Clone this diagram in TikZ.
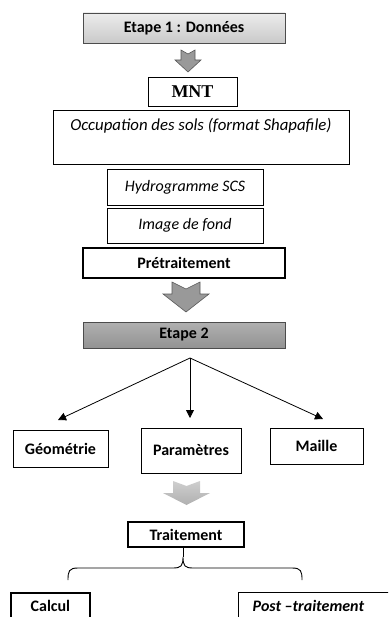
\documentclass[tikz,border=0pt]{standalone}
\usepackage{fontspec}
\setmainfont{Carlito}
\newfontfamily\timesbf{Liberation Serif}
\usetikzlibrary{arrows.meta}

\tikzset{
  base/.style={draw=black, line width=0.8pt, inner sep=0pt, align=center,
               font=\fontsize{16}{19}\selectfont},
  itbox/.style={base, font=\fontsize{16}{19}\selectfont\itshape},
  bfbox/.style={base, font=\fontsize{16}{19}\selectfont\bfseries},
  strongbox/.style={bfbox, line width=1.8pt},
  stageone/.style={bfbox, draw=black!70, top color=gray!15, bottom color=gray!42},
  stagetwo/.style={bfbox, draw=black!70, top color=gray!62, bottom color=gray!85},
  blockarrow/.style={fill=gray!80, draw=black!65, line width=0.6pt},
  softarrow/.style={top color=gray!38, bottom color=gray!62, draw=none},
  link/.style={line width=0.8pt, -{Triangle[length=8pt,width=8pt]}},
}

\begin{document}
\begin{tikzpicture}[x=1pt, y=-1pt]
  \useasboundingbox (0,0) rectangle (388,617);
  \clip (0,0) rectangle (388,617);

  % Etape 1 : inputs
  \node[stageone, minimum width=202pt, minimum height=30pt] (etape1) at (184,28) {Etape 1 : Données};
  \path[blockarrow] (181,50) -- (188,54) -- (195,50) -- (195,60) -- (201,60)
        -- (188,72) -- (175,60) -- (181,60) -- cycle;
  \node[base, minimum width=89pt, minimum height=29pt,
        font=\fontsize{18}{20}\timesbf\bfseries] (mnt) at (192.5,91.5) {MNT};
  \node[itbox, minimum width=296pt, minimum height=54pt,
        font=\fontsize{16.8}{19}\selectfont\itshape] (occupation) at (201,137)
        {Occupation des sols (format Shapafile)\\ \strut};
  \node[itbox, minimum width=156pt, minimum height=36pt] (hydro) at (185,187) {Hydrogramme SCS};
  \node[itbox, minimum width=156pt, minimum height=35pt] (fond) at (185,225.5) {Image de fond};
  \node[strongbox, minimum width=202pt, minimum height=30pt] (pretraitement) at (184,263) {Prétraitement};

  % Etape 2
  \path[blockarrow] (172,282) -- (186,289) -- (200,282) -- (200,294) -- (209,294)
        -- (186,312) -- (163,294) -- (172,294) -- cycle;
  \node[stagetwo, minimum width=202pt, minimum height=26pt] (etape2) at (184,335) {Etape 2};

  \coordinate (fork) at (190,358);
  \coordinate (tipL) at (58,420);
  \coordinate (tipM) at (190,418);
  \coordinate (tipR) at (323,419);
  \draw[link] (fork) -- (tipL);
  \draw[link] (fork) -- (tipM);
  \draw[link] (fork) -- (tipR);

  \node[bfbox, minimum width=95pt, minimum height=37pt] (geometrie) at (60.5,448.5) {\raisebox{-5pt}{Géométrie}};
  \node[bfbox, minimum width=100pt, minimum height=45pt] (parametres) at (191,450.5) {Paramètres};
  \node[bfbox, minimum width=93pt, minimum height=36pt] (maille) at (316.5,446) {\raisebox{-4pt}{Maille}};

  % Traitement
  \path[softarrow] (173,481) -- (186.5,486) -- (200,481) -- (200,493) -- (210,493)
        -- (186.5,505) -- (163,493) -- (173,493) -- cycle;
  \node[strongbox, minimum width=116pt, minimum height=25pt] (traitement) at (186,534.5) {Traitement};

  \coordinate (tip) at (183,557);
  \draw[line width=0.9pt] (tip |- traitement.south) -- (tip);
  \draw[line width=0.9pt] (68,580) .. controls (68,571) and (69,568) .. (78,568)
        -- (173,568) .. controls (181,568) and (183,566) .. (tip)
        .. controls (183,566) and (185,568) .. (193,568)
        -- (292,568) .. controls (301,568) and (302,571) .. (302,580);

  % the last two boxes run on past the lower edge
  \node[strongbox, minimum width=79pt, minimum height=27pt, anchor=north west] (calcul) at (10,592) {Calcul};
  \node[base, minimum width=160pt, minimum height=27pt, anchor=north west,
        font=\fontsize{16}{19}\selectfont\bfseries\itshape] (post) at (238,592)
        {\hspace*{-20pt}Post –traitement};
\end{tikzpicture}
\end{document}
